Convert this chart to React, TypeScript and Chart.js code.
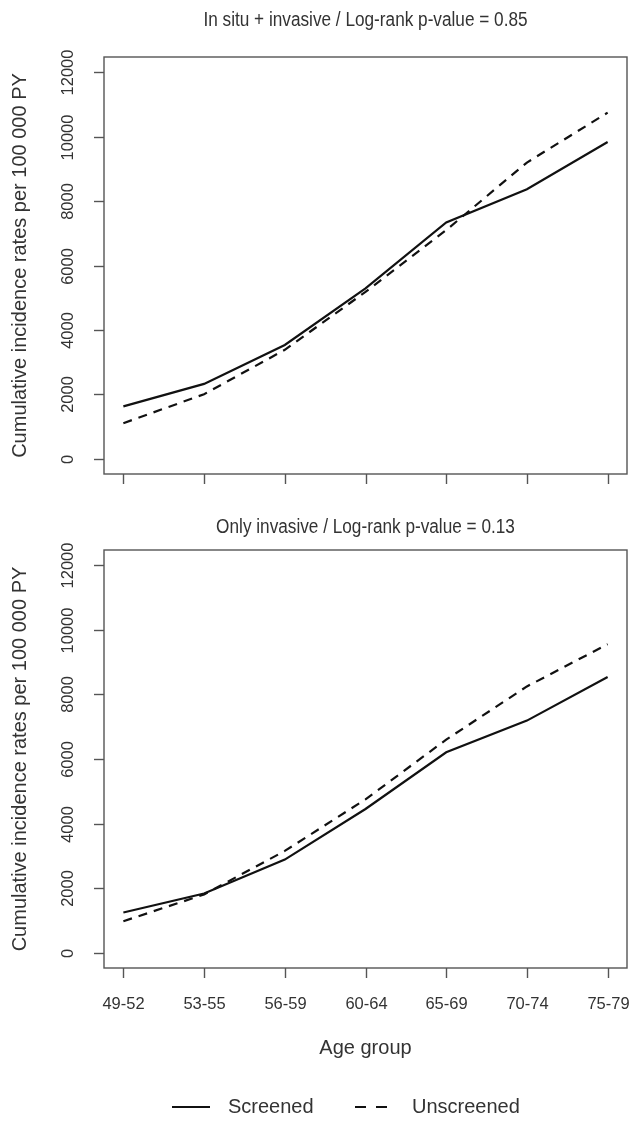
import React, { useEffect, useRef } from "react";
import { Chart, registerables } from "chart.js";

Chart.register(...registerables);

// ---- data ----
const ageGroups = ["49-52", "53-55", "56-59", "60-64", "65-69", "70-74", "75-79"];
const yTicks = [0, 2000, 4000, 6000, 8000, 10000, 12000];
const screenedAll = [1620, 2320, 3530, 5290, 7340, 8370, 9840];
const unscreenedAll = [1100, 2000, 3380, 5180, 7100, 9200, 10750];
const screenedInvasive = [1240, 1830, 2880, 4450, 6210, 7190, 8540];
const unscreenedInvasive = [970, 1800, 3150, 4750, 6600, 8250, 9560];
const panelTitles = [
  "In situ + invasive / Log-rank p-value = 0.85",
  "Only invasive / Log-rank p-value = 0.13",
];
const yTitle = "Cumulative incidence rates per 100 000 PY";
const xTitle = "Age group";
const legendLabels = ["Screened", "Unscreened"];

const FONT = '"Liberation Sans", Arial, sans-serif';
const TEXT = "#333";
const AXIS = "#555";
const DASH = [9, 7];

type PanelProps = {
  top: number;
  height: number;
  boxTop: number;
  boxBottom: number;
  titleY: number;
  title: string;
  screened: number[];
  unscreened: number[];
  bottomPanel: boolean;
};

function Panel({ top, height, boxTop, boxBottom, titleY, title, screened, unscreened, bottomPanel }: PanelProps) {
  const ref = useRef<HTMLCanvasElement | null>(null);
  useEffect(() => {
    if (!ref.current) return;
    const toPts = (arr: number[]) => arr.map((v, i) => ({ x: i, y: v }));
    const plugin = {
      id: "rStyle",
      afterDraw(chart: any) {
        const { ctx, chartArea: a, scales } = chart;
        const x = scales.x;
        const y = scales.y;
        ctx.save();
        // box
        ctx.strokeStyle = AXIS;
        ctx.lineWidth = 1.4;
        ctx.strokeRect(a.left, a.top, a.right - a.left, a.bottom - a.top);
        // y ticks + labels
        ctx.fillStyle = TEXT;
        ctx.font = `16.5px ${FONT}`;
        yTicks.forEach((v) => {
          const py = Math.round(y.getPixelForValue(v)) + 0.5;
          ctx.beginPath();
          ctx.moveTo(a.left - 10, py);
          ctx.lineTo(a.left, py);
          ctx.stroke();
          ctx.save();
          ctx.translate(68, py);
          ctx.rotate(-Math.PI / 2);
          ctx.textAlign = "center";
          ctx.textBaseline = "middle";
          ctx.fillText(String(v), 0, 0);
          ctx.restore();
        });
        // x ticks
        ageGroups.forEach((lab, i) => {
          const px = Math.round(x.getPixelForValue(i)) + 0.5;
          ctx.beginPath();
          ctx.moveTo(px, a.bottom);
          ctx.lineTo(px, a.bottom + 10);
          ctx.stroke();
          if (bottomPanel) {
            ctx.textAlign = "center";
            ctx.textBaseline = "middle";
            ctx.font = `16.5px ${FONT}`;
            ctx.fillText(lab, px, a.bottom + 36);
          }
        });
        // title (condensed)
        const cx = (a.left + a.right) / 2;
        ctx.save();
        ctx.translate(cx, titleY);
        ctx.scale(0.86, 1);
        ctx.font = `20px ${FONT}`;
        ctx.textAlign = "center";
        ctx.textBaseline = "middle";
        ctx.fillText(title, 0, 0);
        ctx.restore();
        // y title
        ctx.save();
        ctx.translate(20, (a.top + a.bottom) / 2);
        ctx.rotate(-Math.PI / 2);
        ctx.font = `20px ${FONT}`;
        ctx.textAlign = "center";
        ctx.textBaseline = "middle";
        ctx.fillText(yTitle, 0, 0);
        ctx.restore();
        if (bottomPanel) {
          ctx.font = `20px ${FONT}`;
          ctx.textAlign = "center";
          ctx.textBaseline = "middle";
          ctx.fillText(xTitle, cx, a.bottom + 80);
          // legend
          const ly = a.bottom + 139;
          ctx.strokeStyle = "#111";
          ctx.lineWidth = 2.2;
          ctx.beginPath();
          ctx.moveTo(172, ly);
          ctx.lineTo(210, ly);
          ctx.stroke();
          ctx.setLineDash([11, 10]);
          ctx.beginPath();
          ctx.moveTo(355, ly);
          ctx.lineTo(387, ly);
          ctx.stroke();
          ctx.setLineDash([]);
          ctx.textAlign = "left";
          ctx.fillStyle = TEXT;
          ctx.fillText(legendLabels[0], 228, ly);
          ctx.fillText(legendLabels[1], 412, ly);
        }
        ctx.restore();
      },
    };
    const chart = new Chart(ref.current, {
      type: "line",
      data: {
        datasets: [
          {
            label: legendLabels[0],
            data: toPts(screened),
            borderColor: "#111",
            borderWidth: 2.2,
            pointRadius: 0,
            tension: 0,
            fill: false,
          },
          {
            label: legendLabels[1],
            data: toPts(unscreened),
            borderColor: "#111",
            borderWidth: 2.2,
            borderDash: DASH,
            pointRadius: 0,
            tension: 0,
            fill: false,
          },
        ],
      },
      options: {
        animation: false,
        responsive: false,
        devicePixelRatio: 1,
        layout: {
          padding: { left: 104, right: 637 - 627, top: boxTop, bottom: height - boxBottom },
        },
        plugins: { legend: { display: false }, tooltip: { enabled: false }, title: { display: false } },
        scales: {
          x: { type: "linear", min: -0.24, max: 6.24, display: false },
          y: { type: "linear", min: -480, max: 12480, display: false },
        },
      },
      plugins: [plugin],
    } as any);
    return () => chart.destroy();
  }, []);
  return (
    <canvas
      ref={ref}
      width={637}
      height={height}
      style={{ position: "absolute", left: 0, top, width: 637, height }}
    />
  );
}

export default function App() {
  return (
    <div style={{ position: "absolute", left: 0, top: 0, width: 637, height: 1131, background: "#fff" }}>
      <Panel
        top={0}
        height={500}
        boxTop={57}
        boxBottom={474}
        titleY={20}
        title={panelTitles[0]}
        screened={screenedAll}
        unscreened={unscreenedAll}
        bottomPanel={false}
      />
      <Panel
        top={500}
        height={631}
        boxTop={50}
        boxBottom={468}
        titleY={27}
        title={panelTitles[1]}
        screened={screenedInvasive}
        unscreened={unscreenedInvasive}
        bottomPanel={true}
      />
    </div>
  );
}
